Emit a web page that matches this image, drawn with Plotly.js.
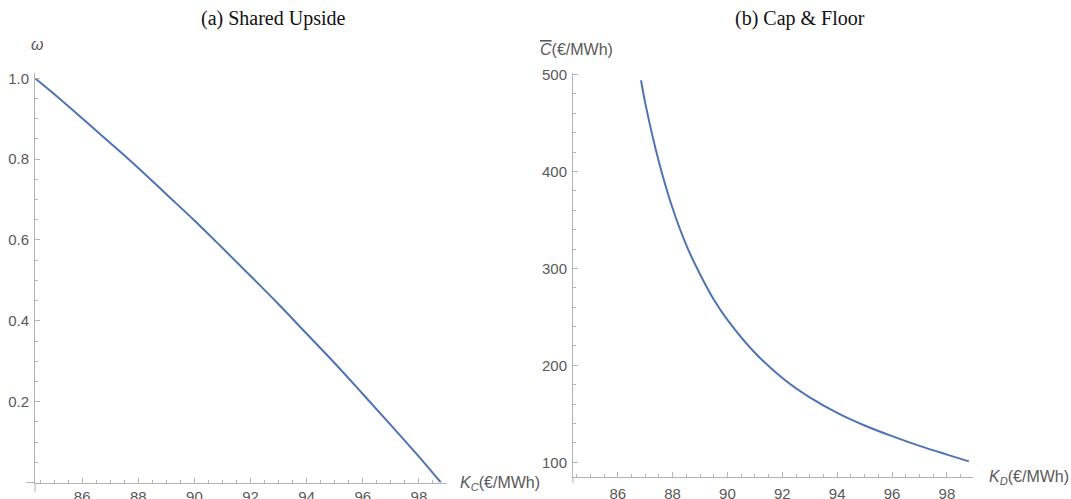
<!DOCTYPE html>
<html>
<head>
<meta charset="utf-8">
<script src="https://cdn.plot.ly/plotly-3.0.1.min.js"></script>
<style>
html,body{margin:0;padding:0;background:#fff;overflow:hidden;}
#chart{width:1071px;height:499px;}
</style>
</head>
<body>
<div id="chart"></div>
<script>
// Panel (a) Shared Upside
const kC = [84.32, 85, 86, 87, 88, 89, 90, 91, 92, 93, 94, 95, 96, 97, 98, 98.78];
const omega = [1.000, 0.961, 0.901, 0.840, 0.778, 0.713, 0.648, 0.580, 0.511, 0.441, 0.368, 0.295, 0.219, 0.142, 0.064, 0.000];
// Panel (b) Cap & Floor
const kD = [86.85, 87, 87.5, 88, 88.5, 89, 89.5, 90, 91, 92, 93, 94, 95, 96, 97, 98, 98.8];
const capC = [494, 471, 410, 362, 324, 294, 268, 247, 213, 187, 167, 151, 138, 127, 117, 108, 101];
// Tick labels
const omegaTicks = [0.2, 0.4, 0.6, 0.8, 1.0];
const omegaTickText = ["0.2", "0.4", "0.6", "0.8", "1.0"];
const titles = ["(a) Shared Upside", "(b) Cap & Floor"];

const lineColor = '#4e74b5';
const axisGray = '#b3b3b3';
const tickFont = {family: 'Liberation Sans, Arial, sans-serif', size: 15, color: '#595959'};
const labFont = {family: 'Liberation Sans, Arial, sans-serif', size: 16, color: '#595959'};

const traces = [
  {x: kC, y: omega, xaxis: 'x', yaxis: 'y', mode: 'lines', line: {color: lineColor, width: 2, shape: 'spline', smoothing: 1}, hoverinfo: 'skip'},
  {x: kD, y: capC, xaxis: 'x2', yaxis: 'y2', mode: 'lines', line: {color: lineColor, width: 2, shape: 'spline', smoothing: 1}, hoverinfo: 'skip'}
];

function xax(domain, range, anchor, standoff) {
  return {
    domain: domain, range: range, anchor: anchor,
    showgrid: false, zeroline: false, showline: true, linecolor: axisGray, linewidth: 1,
    ticks: 'inside', ticklen: 5, tickcolor: axisGray, tickwidth: 1,
    tickmode: 'linear', tick0: 0, dtick: 2,
    minor: {dtick: 0.5, ticks: 'inside', ticklen: 3, tickcolor: axisGray, tickwidth: 1, showgrid: false},
    tickfont: tickFont, ticklabelstandoff: standoff, fixedrange: true
  };
}

const layout = {
  width: 1071, height: 499,
  margin: {l: 0, r: 0, t: 0, b: 0},
  paper_bgcolor: '#fff', plot_bgcolor: '#fff',
  showlegend: false,
  xaxis: xax([35/1071, 447/1071], [84.32, 99.0], 'y', 0),
  yaxis: {
    domain: [1 - 482.5/499, 1 - 73.4/499], range: [0, 1.012], anchor: 'x',
    showgrid: false, zeroline: false, showline: true, linecolor: axisGray, linewidth: 1,
    ticks: 'inside', ticklen: 5, tickcolor: axisGray, tickwidth: 1,
    tickmode: 'array', tickvals: omegaTicks, ticktext: omegaTickText,
    minor: {tickmode: 'linear', tick0: 0, dtick: 0.05, ticks: 'inside', ticklen: 3, tickcolor: axisGray, tickwidth: 1, showgrid: false},
    tickfont: tickFont, ticklabelstandoff: 2, fixedrange: true
  },
  xaxis2: xax([573/1071, 973/1071], [84.37, 98.95], 'y2', 3),
  yaxis2: {
    domain: [1 - 476.7/499, 1 - 73/499], range: [85.2, 501.5], anchor: 'x2',
    showgrid: false, zeroline: false, showline: true, linecolor: axisGray, linewidth: 1,
    ticks: 'inside', ticklen: 5, tickcolor: axisGray, tickwidth: 1,
    tickmode: 'linear', tick0: 0, dtick: 100,
    minor: {dtick: 20, ticks: 'inside', ticklen: 3, tickcolor: axisGray, tickwidth: 1, showgrid: false},
    tickfont: tickFont, ticklabelstandoff: 2, fixedrange: true
  },
  shapes: [
    // Mathematica-style axis overhangs at the origin
    {type: 'line', xref: 'paper', yref: 'paper', x0: 35/1071, x1: 35/1071, y0: 1 - 482.5/499, y1: 1 - 492/499, line: {color: axisGray, width: 1}},
    {type: 'line', xref: 'paper', yref: 'paper', x0: 26/1071, x1: 35/1071, y0: 1 - 482.5/499, y1: 1 - 482.5/499, line: {color: axisGray, width: 1}},
    {type: 'line', xref: 'paper', yref: 'paper', x0: 573/1071, x1: 573/1071, y0: 1 - 476.7/499, y1: 1 - 483/499, line: {color: axisGray, width: 1}}
  ],
  annotations: [
    {text: titles[0], xref: 'paper', yref: 'paper', x: 273/1071, y: 1 - 18/499, xanchor: 'center', yanchor: 'middle', showarrow: false,
     font: {family: 'Liberation Serif, Times New Roman, serif', size: 20, color: '#111'}},
    {text: titles[1], xref: 'paper', yref: 'paper', x: 800/1071, y: 1 - 18/499, xanchor: 'center', yanchor: 'middle', showarrow: false,
     font: {family: 'Liberation Serif, Times New Roman, serif', size: 20, color: '#111'}},
    {text: '<i>ω</i>', xref: 'paper', yref: 'paper', x: 37/1071, y: 1 - 45/499, xanchor: 'center', yanchor: 'middle', showarrow: false, font: labFont},
    {text: '<i><span style="text-decoration:overline">C</span></i>(€/MWh)', xref: 'paper', yref: 'paper', x: 538/1071, y: 1 - 50/499, xanchor: 'left', yanchor: 'middle', showarrow: false, font: labFont},
    {text: '<i>K</i><sub><i>C</i></sub>(€/MWh)', xref: 'paper', yref: 'paper', x: 458/1071, y: 1 - 483/499, xanchor: 'left', yanchor: 'middle', showarrow: false, font: labFont},
    {text: '<i>K</i><sub><i>D</i></sub>(€/MWh)', xref: 'paper', yref: 'paper', x: 987/1071, y: 1 - 477/499, xanchor: 'left', yanchor: 'middle', showarrow: false, font: labFont}
  ]
};

Plotly.newPlot('chart', traces, layout, {displayModeBar: false, staticPlot: true});
</script>
</body>
</html>
